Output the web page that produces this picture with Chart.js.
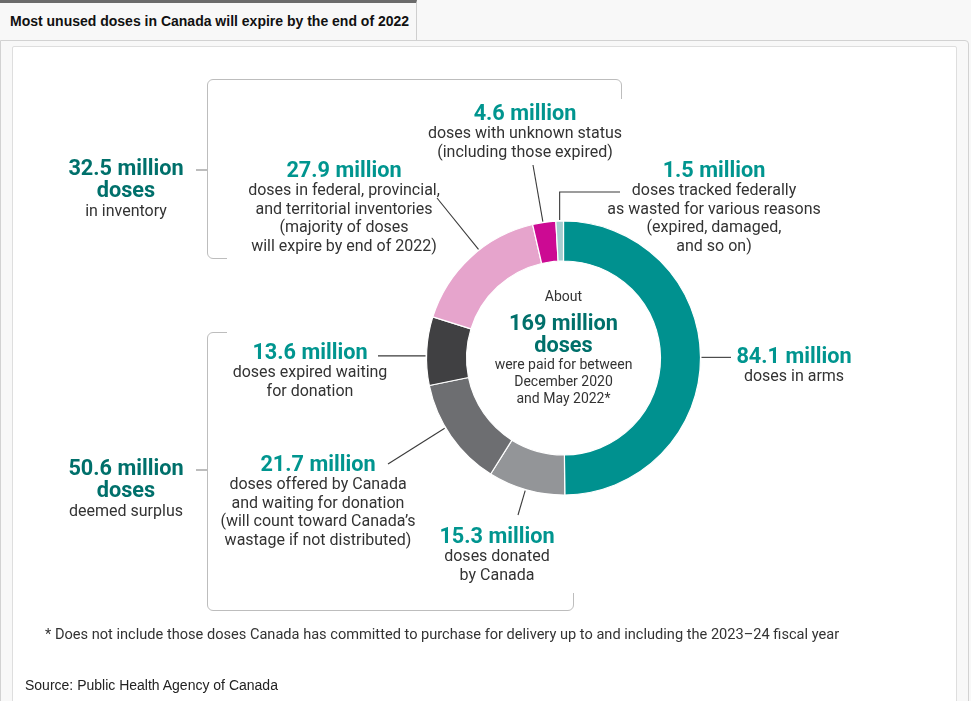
<!DOCTYPE html>
<html>
<head>
<meta charset="utf-8">
<script src="https://cdn.jsdelivr.net/npm/chart.js@4"></script>
<style>
  html, body { margin:0; padding:0; background:#f8f8f8; width:971px; height:701px; overflow:hidden; font-family:Roboto, "Noto Sans", sans-serif; }
  .abs { position:absolute; }
  #tab { left:0; top:0; width:417px; height:40px; border-top:3px solid #6b6b6b; border-right:1px solid #cfcfcf; box-sizing:border-box; background:#f8f8f8; }
  #tab span { position:absolute; left:10px; top:10px; font:bold 14px "Liberation Sans", Arial, sans-serif; color:#111; }
  #outer { left:0; top:40px; width:969px; height:670px; border:1px solid #d2d2d2; border-top-right-radius:4px; box-sizing:border-box; background:#f8f8f8; }
  #panel { left:12px; top:46px; width:945px; height:660px; border:1px solid #dedede; border-radius:2px; box-sizing:border-box; background:#fff; }
  #wrap { left:0; top:0; width:971px; height:701px; z-index:2; }
  .bracket { border:1.5px solid #bdbdbd; border-radius:6px; box-sizing:border-box; z-index:1; }
  .cover { background:#fff; z-index:1; }
  .lbl { position:absolute; width:320px; text-align:center; z-index:3; color:#333; }
  .num { font-weight:bold; font-size:21.7px; line-height:22px; color:#00958f; }
  .grp { font-weight:bold; font-size:21.7px; line-height:22px; color:#00706b; }
  .body { font-size:16px; line-height:18.5px; }
  .small { font-size:14px; line-height:17px; }
  #note { left:45px; top:625px; font-size:14.6px; color:#333; z-index:3; white-space:nowrap; }
  #src { left:25px; top:677px; font:14px "Liberation Sans", Arial, sans-serif; color:#222; z-index:3; }
</style>
</head>
<body>
<div id="tab" class="abs"><span>Most unused doses in Canada will expire by the end of 2022</span></div>
<div id="outer" class="abs"></div>
<div id="panel" class="abs"></div>

<!-- brackets grouping inventory / surplus: rounded boxes with the open sides covered -->
<div class="abs bracket" style="left:207px;top:79px;width:415px;height:180px;"></div>
<div class="abs cover" style="left:227px;top:99px;width:400px;height:165px;"></div>
<div class="abs bracket" style="left:207px;top:332px;width:367px;height:279px;"></div>
<div class="abs cover" style="left:227px;top:325px;width:352px;height:268px;"></div>
<div class="abs" style="left:196px;top:169px;width:12px;height:1.5px;background:#bdbdbd;z-index:1;"></div>
<div class="abs" style="left:196px;top:469px;width:12px;height:1.5px;background:#bdbdbd;z-index:1;"></div>

<div id="wrap" class="abs"><canvas id="donut"></canvas></div>
<div id="labels"></div>
<div id="note" class="abs">* Does not include those doses Canada has committed to purchase for delivery up to and including the 2023–24 fiscal year</div>
<div id="src" class="abs">Source: Public Health Agency of Canada</div>

<script>
// ---- data (millions of doses), clockwise from 12 o'clock
const categories = ['In arms', 'Donated', 'Offered, waiting for donation', 'Expired waiting for donation',
                    'In inventories', 'Unknown status', 'Wasted'];
const doses = [84.1, 15.3, 21.7, 13.6, 27.9, 4.6, 1.5];
const colors = ['#00918f', '#939598', '#6d6e71', '#404042', '#e6a4cc', '#cc0a93', '#a3cdd0'];
const descriptions = [
  ['doses in arms'],
  ['doses donated', 'by Canada'],
  ['doses offered by Canada', 'and waiting for donation', '(will count toward Canada’s', 'wastage if not distributed)'],
  ['doses expired waiting', 'for donation'],
  ['doses in federal, provincial,', 'and territorial inventories', '(majority of doses', 'will expire by end of 2022)'],
  ['doses with unknown status', '(including those expired)'],
  ['doses tracked federally', 'as wasted for various reasons', '(expired, damaged,', 'and so on)']
];
const groupTotals = [32.5, 50.6];
const groupNotes = ['in inventory', 'deemed surplus'];
const totalPaid = 169;

// label placement: centre x, top y of the number line
const labelPos = [[794,345],[497,525],[318,453],[310,341],[344,159],[525,102],[714,159]];
// leader: t = position along the arc, then the path out to the label
const leaders = [
  {t:0.5,  path:[['h',731]]},
  {t:0.51, path:[[518,515]]},
  {t:0.59, path:[[388,464]]},
  {t:0.43, path:[['h',378]]},
  {t:0.58, path:[[437,198]]},
  {t:0.45, path:[[533,165]]},
  {t:0.5,  path:[['v',192],['h',620]]}
];

const layer = document.getElementById('labels');
function addBlock(cx, top, html) {
  const d = document.createElement('div');
  d.className = 'lbl'; d.style.left = (cx - 160) + 'px'; d.style.top = top + 'px';
  d.innerHTML = html; layer.appendChild(d);
}
doses.forEach((v, i) => {
  const [cx, top] = labelPos[i];
  addBlock(cx, top, `<div class="num">${v} million</div><div class="body">${descriptions[i].join('<br>')}</div>`);
});
[[126,157],[126,457]].forEach(([cx, top], i) => {
  addBlock(cx, top, `<div class="grp">${groupTotals[i]} million<br>doses</div><div class="body" style="line-height:20px">${groupNotes[i]}</div>`);
});
addBlock(563.5, 287, `<div class="small" style="line-height:18px">About</div><div class="grp" style="margin-top:7px">${totalPaid} million<br>doses</div><div class="small">were paid for between<br>December 2020<br>and May 2022*</div>`);

const leaderPlugin = {
  id: 'leaders',
  afterDatasetsDraw(chart) {
    const ctx = chart.ctx;
    const arcs = chart.getDatasetMeta(0).data;
    ctx.save();
    ctx.strokeStyle = '#3a3a3a'; ctx.lineWidth = 1.1;
    arcs.forEach((arc, i) => {
      const L = leaders[i];
      const a = arc.startAngle + L.t * (arc.endAngle - arc.startAngle);
      let x = arc.x + Math.cos(a) * (arc.outerRadius + 1);
      let y = arc.y + Math.sin(a) * (arc.outerRadius + 1);
      ctx.beginPath(); ctx.moveTo(x, y);
      L.path.forEach(p => {
        if (p[0] === 'h') x = p[1]; else if (p[0] === 'v') y = p[1]; else { x = p[0]; y = p[1]; }
        ctx.lineTo(x, y);
      });
      ctx.stroke();
    });
    ctx.restore();
  }
};

new Chart(document.getElementById('donut'), {
  type: 'doughnut',
  data: { labels: categories, datasets: [{ data: doses, backgroundColor: colors, borderColor: '#ffffff', borderWidth: 1.2 }] },
  options: {
    responsive: true, maintainAspectRatio: false, animation: false, events: [],
    radius: 137, cutout: '70.8%',
    layout: { padding: { left: 156, top: 15 } },
    plugins: { legend: { display: false }, tooltip: { enabled: false } }
  },
  plugins: [leaderPlugin]
});
</script>
</body>
</html>
